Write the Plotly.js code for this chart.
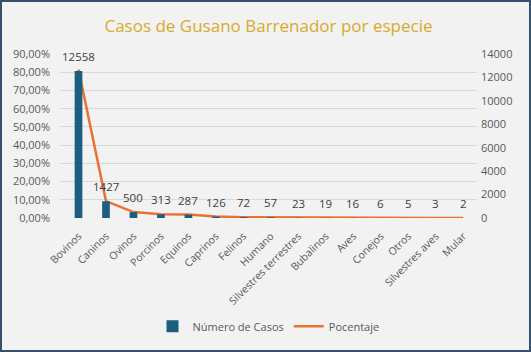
<!DOCTYPE html>
<html>
<head>
<meta charset="utf-8">
<script src="https://cdn.plot.ly/plotly-3.0.1.min.js"></script>
<style>
html,body{margin:0;padding:0;background:#f2f2f2;}
#wrap{position:relative;width:531px;height:352px;}
#chart{width:531px;height:352px;}
#frame{position:absolute;left:0;top:0;width:531px;height:352px;box-sizing:border-box;border:2px solid #3a4f6e;pointer-events:none;}
</style>
</head>
<body>
<div id="wrap"><div id="chart"></div><div id="frame"></div></div>
<script>
const categories = ["Bovinos","Caninos","Ovinos","Porcinos","Equinos","Caprinos","Felinos","Humano","Silvestres terrestres","Bubalinos","Aves","Conejos","Otros","Silvestres aves","Mular"];
const casos = [12558,1427,500,313,287,126,72,57,23,19,16,6,5,3,2];
const porcentaje = [81.47,9.26,3.24,2.03,1.86,0.82,0.47,0.37,0.15,0.12,0.10,0.04,0.03,0.02,0.01];
const leftTicks = [0,10,20,30,40,50,60,70,80,90];
const leftTickLabels = ["0,00%","10,00%","20,00%","30,00%","40,00%","50,00%","60,00%","70,00%","80,00%","90,00%"];
const rightTicks = [0,2000,4000,6000,8000,10000,12000,14000];

const font = "Open Sans, Lato, sans-serif";
const txt = "#595959";

const bars = {
  type: "bar", name: "Número de Casos", x: categories, y: casos,
  yaxis: "y2", width: 0.28,
  marker: {color: "#1b5e80"},
  hoverinfo: "x+y"
};
const line = {
  type: "scatter", mode: "lines", name: "Pocentaje", x: categories, y: porcentaje,
  yaxis: "y", line: {color: "#e97132", width: 2.5},
  cliponaxis: false
};

const annotations = categories.map((c, i) => ({
  x: c, y: casos[i], xref: "x", yref: "y2",
  text: String(casos[i]), showarrow: false,
  yanchor: "bottom", yshift: 5,
  font: {family: font, size: 11.5, color: "#404040"}
}));

const layout = {
  width: 531, height: 352,
  paper_bgcolor: "#f2f2f2", plot_bgcolor: "#f2f2f2",
  margin: {l: 60, r: 54, t: 54, b: 131},
  font: {family: font, color: txt},
  title: {text: "Casos de Gusano Barrenador por especie", x: 0.5, xanchor: "center", xref: "paper",
          y: 1 - 26/352, yanchor: "middle", yref: "container",
          font: {family: font, size: 17, color: "#d9aa2c"}},
  xaxis: {type: "category", tickangle: -45, tickfont: {size: 10.5, color: txt},
          showgrid: false, showline: false, ticks: "", automargin: false, ticklabelstandoff: 9},
  yaxis: {range: [0, 90], tickvals: leftTicks, ticktext: leftTickLabels,
          tickfont: {size: 11, color: txt}, gridcolor: "#d9d9d9", gridwidth: 1,
          zeroline: false, showline: false, ticks: "", automargin: false, ticklabelstandoff: 9},
  yaxis2: {range: [0, 14000], tickvals: rightTicks, ticktext: rightTicks.map(String),
           overlaying: "y", side: "right", showgrid: false, zeroline: false,
           tickfont: {size: 11, color: txt}, ticks: "", automargin: false, ticklabelstandoff: 3},
  legend: {orientation: "h", x: 0.5, xanchor: "center", y: -0.66, yanchor: "middle",
           font: {size: 11, color: txt}, bgcolor: "rgba(0,0,0,0)", itemwidth: 30},
  annotations: annotations,
  showlegend: true
};

Plotly.newPlot("chart", [bars, line], layout, {displayModeBar: false, staticPlot: true});
</script>
</body>
</html>
